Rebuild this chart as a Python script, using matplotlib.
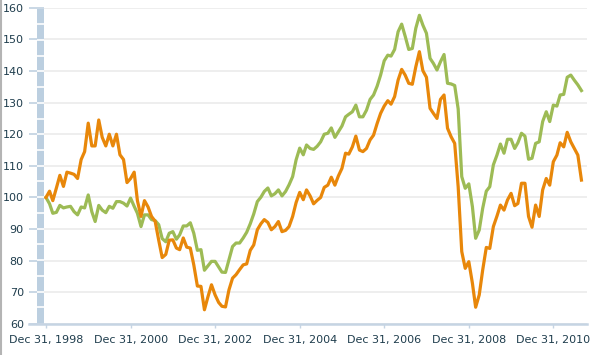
import numpy as np
import pandas as pd
import matplotlib
matplotlib.use("Agg")
import matplotlib.pyplot as plt
import matplotlib.dates as mdates
from matplotlib.lines import Line2D

# monthly index values, Dec 1998 = 100
orange = [100, 102, 99, 103, 107, 103.5, 108, 107.7, 107.3, 106,
          112, 114.5, 123.5, 116.3, 116.3, 124.5, 119, 116.3, 120, 116.3,
          120, 113.5, 112, 104.7, 106, 108, 99, 94, 99, 97,
          94, 92.5, 86.5, 81, 82, 86.5, 86.6, 84, 83.5, 87.2,
          84.3, 84, 78.7, 72, 71.9, 64.5, 68.7, 72.4, 69.2, 66.8,
          65.6, 65.4, 70.8, 74.5, 75.6, 77.2, 78.7, 79, 83.3, 85,
          89.8, 91.7, 93, 92.1, 89.8, 90.8, 92.4, 89.2, 89.6, 90.8,
          94, 98.4, 101.6, 99.3, 102.4, 100.5, 98, 99.1, 100, 103.2,
          103.9, 106.4, 103.9, 106.8, 109.2, 114, 113.7, 116, 119.4, 115,
          114.5, 115.5, 118.2, 119.7, 123.4, 126.6, 128.9, 130.6, 129.5, 131.9,
          137.1, 140.5, 138.7, 136.1, 135.8, 141.3, 146.1, 140.1, 138, 128.2,
          126.6, 125, 131, 132.4, 121.9, 119.2, 117.1, 103.4, 82.9, 77.6,
          79.7, 72.9, 65.3, 69.2, 77.1, 84.2, 83.9, 90.8, 94.1, 97.6,
          96, 99.2, 101.3, 97.4, 98.1, 104.5, 104.5, 94, 90.6, 97.6,
          94, 102.4, 106, 103.9, 111.3, 113.4, 117.3, 116, 120.6, 117.6,
          115.5, 113.4, 105.5]

green = [100, 98, 95, 95.3, 97.5, 96.7, 97, 97.2, 95.5, 94.5,
         97, 96.7, 100.8, 95.5, 92.4, 97.5, 96, 95.2, 97.2, 96.6,
         98.7, 98.7, 98.2, 97.3, 99.8, 97.2, 95, 90.8, 94.5, 94.5,
         93, 92.7, 91.4, 87, 86, 88.7, 89.2, 86.8, 88.2, 91,
         91, 92, 88.7, 83.3, 83.5, 77, 78.4, 79.8, 79.8, 78,
         76.4, 76.3, 80.3, 84.5, 85.6, 85.6, 87.2, 89, 91.7, 94.8,
         98.7, 100.1, 101.9, 103, 100.5, 101.2, 102.4, 100.5, 101.9, 104,
         106.6, 111.9, 115.6, 113.5, 116.6, 115.5, 115.2, 116.2, 117.6, 120,
         120.3, 122, 119, 120.8, 122.6, 125.5, 126.3, 127.1, 129.2, 125.5,
         125.5, 127.6, 131, 132.4, 135.2, 138.7, 143.2, 145, 144.7, 146.8,
         152.4, 154.8, 151, 146.8, 147.1, 153.5, 157.6, 154.5, 151.9, 144,
         142.4, 140.3, 142.9, 145.2, 136.1, 135.9, 135.4, 128, 106.6, 102.9,
         104.3, 97.1, 87.1, 89.7, 96.6, 102, 103.4, 110.3, 113.4, 116.9,
         114, 118.4, 118.4, 115.5, 117.3, 120.3, 119.4, 112.1, 112.4, 117.1,
         117.6, 124, 127.1, 124, 129.2, 128.9, 132.4, 132.6, 138, 138.7,
         137.1, 135.6, 133.8]

dates = pd.date_range("1998-12-31", periods=len(orange), freq="ME")
tick_dates = pd.to_datetime(["1998-12-31", "2000-12-31", "2002-12-31", "2004-12-31",
                             "2006-12-31", "2008-12-31", "2010-12-31"])
y_ticks = list(range(60, 161, 10))

txt = "#1f3d4d"
axis_blue = "#c5d4e3"
band_blue = "#bccfe0"

W, H = 596, 355
fig = plt.figure(figsize=(W / 100, H / 100), dpi=100)
plt.rcParams["font.family"] = "DejaVu Sans"

left, right, top, bottom = 44, 587, 7.7, 324
ax = fig.add_axes([left / W, 1 - bottom / H, (right - left) / W, (bottom - top) / H])

ax.plot(dates, green, color="#9dbb55", lw=2.3, solid_joinstyle="round", zorder=3)
ax.plot(dates, orange, color="#e8870a", lw=2.3, solid_joinstyle="round", zorder=4)

ax.set_ylim(60, 160)
ax.set_xlim(pd.Timestamp("1998-12-14"), pd.Timestamp("2011-10-18"))
ax.set_yticks(y_ticks)
ax.set_xticks(tick_dates)
ax.xaxis.set_major_formatter(mdates.DateFormatter("%b %d, %Y"))

ax.grid(axis="y", color="#ebebeb", lw=1.2)
ax.set_axisbelow(True)
for s in ax.spines.values():
    s.set_visible(False)

ax.tick_params(axis="y", length=11, width=1.3, color=axis_blue, pad=3.5,
               labelsize=8, labelcolor=txt)
ax.tick_params(axis="x", length=3, width=1, color=axis_blue, pad=5,
               labelsize=8, labelcolor=txt)

# x axis line, reaching under the tick stubs
fig.add_artist(Line2D([29 / W, right / W], [1 - 324 / H, 1 - 324 / H],
                      color=axis_blue, lw=1.8, zorder=5))
# grey border on the far left
fig.add_artist(Line2D([0.8 / W, 0.8 / W], [0, 1], color="#b4b4b4", lw=1.5))

# segmented blue band beside the y axis
band = fig.add_axes([37 / W, 1 - 323 / H, 7 / W, (323 - 8.5) / H])
band.set_facecolor(band_blue)
band.set_ylim(60, 160)
band.set_xlim(0, 1)
for v in range(65, 160, 5):
    band.axhline(v, color="white", lw=1.2)
band.set_xticks([])
band.set_yticks([])
for s in band.spines.values():
    s.set_visible(False)

fig.savefig("out.png", dpi=100)
